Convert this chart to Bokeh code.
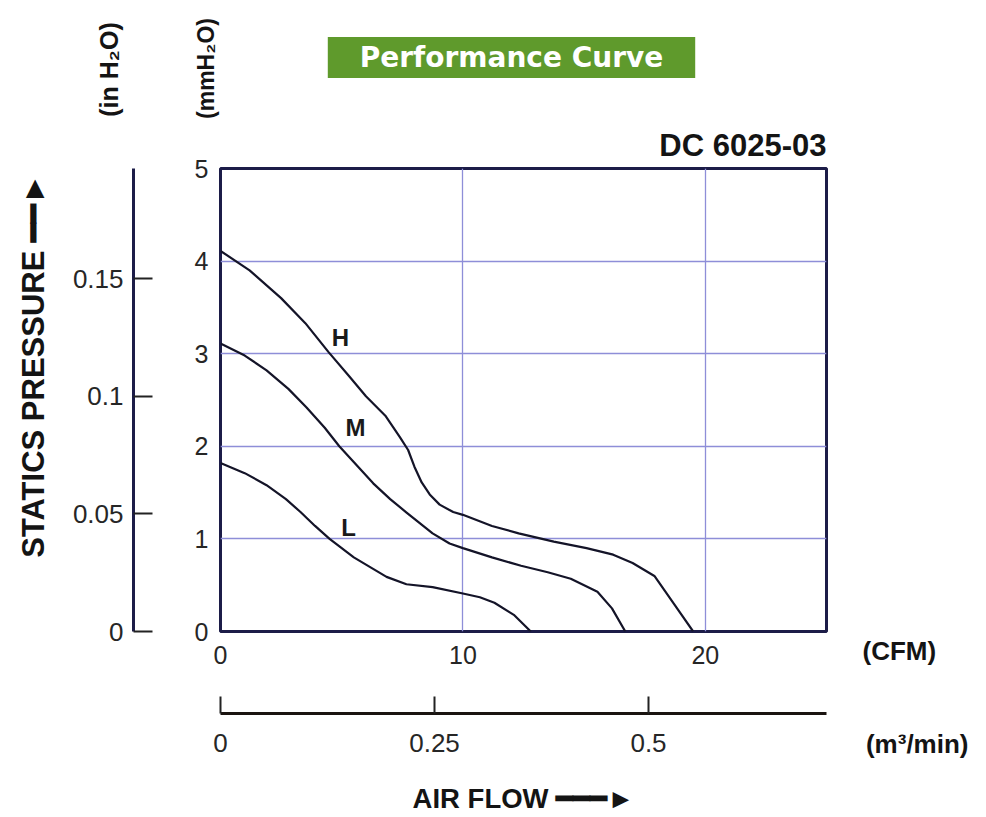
import math
from bokeh.plotting import figure
from bokeh.layouts import column, row
from bokeh.models import (Range1d, LinearAxis, FixedTicker, NumeralTickFormatter, Label, Title)
from bokeh.embed import file_html
from bokeh.resources import INLINE

# ---------------- data ----------------
H_cfm = [0, 1.2, 2.5, 3.5, 4.45, 5.3, 6.0, 6.8, 7.4, 7.74, 8.0, 8.3, 8.63, 9.04, 9.6, 10, 11.2, 12.3, 13.75, 15.1, 16.2, 17.0, 17.9, 18.7, 19.5]
H_mm = [4.11, 3.9, 3.6, 3.33, 3.02, 2.76, 2.54, 2.33, 2.1, 1.96, 1.78, 1.61, 1.48, 1.37, 1.29, 1.26, 1.14, 1.06, 0.97, 0.9, 0.83, 0.74, 0.6, 0.3, 0.0]

M_cfm = [0, 1.0, 1.9, 2.8, 3.55, 4.3, 4.9, 5.6, 6.3, 7.0, 7.65, 8.75, 9.45, 10, 11.2, 12.4, 13.5, 14.45, 15.55, 16.15, 16.7]
M_mm = [3.11, 2.98, 2.82, 2.62, 2.42, 2.2, 2.0, 1.8, 1.6, 1.43, 1.29, 1.06, 0.95, 0.9, 0.8, 0.71, 0.64, 0.57, 0.43, 0.25, 0.0]

L_cfm = [0, 1.0, 1.9, 2.7, 3.3, 3.9, 4.5, 5.5, 6.85, 7.67, 8.75, 10, 10.7, 11.3, 12.1, 12.8]
L_mm = [1.82, 1.71, 1.58, 1.43, 1.29, 1.14, 1.0, 0.8, 0.59, 0.51, 0.48, 0.41, 0.37, 0.31, 0.18, 0.0]

curve_names = ["H", "M", "L"]
curve_label_x = [4.95, 5.57, 5.28]
curve_label_y = [3.17, 2.2, 1.12]

cfm_ticks = [0, 10, 20]
mm_ticks = [0, 1, 2, 3, 4, 5]
inch_ticks = [0, 0.05, 0.1, 0.15]
m3_ticks = [0, 0.25, 0.5]

CFM_MAX = 25
MM_MAX = 5
MM_PER_INCH = 25.4
M3MIN_PER_CFM = 0.0283168

# ---------------- styles / layout sizes ----------------
NAVY = "#1c1c48"
TXT = "#262626"
DARK = "#141414"
GRID = "#8e8ed8"
FONT = "Liberation Sans"

TOTAL_W, TOTAL_H = 970, 817
FRAME_TOP, FRAME_H = 168, 463
MAIN_TOP_BORDER = 49
HEAD_H = FRAME_TOP - MAIN_TOP_BORDER
MAIN_W = 842
MAIN_H = TOTAL_H - HEAD_H
SIDE_W = TOTAL_W - MAIN_W


def blank(width, height, x0, x1, y0, y1):
    f = figure(width=width, height=height, output_backend="svg", toolbar_location=None,
               x_range=Range1d(x0, x1), y_range=Range1d(y1, y0), title=None,
               x_axis_location=None, y_axis_location=None, min_border=0)
    f.grid.visible = False
    f.outline_line_color = None
    f.background_fill_color = "white"
    f.border_fill_color = "white"
    return f


def tlabel(f, x, y, text, size, align="left", angle=0.0, font=FONT, color=DARK, **kw):
    f.add_layout(Label(x=x, y=y, text=text, text_align=align, text_baseline="middle",
                       angle=angle, text_font=font, text_font_style="bold",
                       text_font_size=size, text_color=color, **kw))


# ---------------- header strip (page pixels) ----------------
head = blank(TOTAL_W, HEAD_H, 0, TOTAL_W, 0, HEAD_H)
tlabel(head, 511, 57, "Performance Curve", "28px", align="center", font="DejaVu Sans",
       color="white", background_fill_color="#5f9a2c",
       padding=dict(top=4, right=32, bottom=4, left=32))
tlabel(head, 108, 69, "(in H₂O)", "25px", align="center", angle=math.pi / 2)
tlabel(head, 205, 68, "(mmH₂O)", "23px", align="center", angle=math.pi / 2)

# ---------------- main chart ----------------
p = figure(width=MAIN_W, height=MAIN_H, output_backend="svg", toolbar_location=None,
           x_range=Range1d(0, CFM_MAX), y_range=Range1d(0, MM_MAX), title=None,
           min_border_left=220, min_border_right=16,
           min_border_top=MAIN_TOP_BORDER,
           min_border_bottom=MAIN_H - MAIN_TOP_BORDER - FRAME_H)
p.background_fill_color = "white"
p.border_fill_color = "white"
p.outline_line_color = NAVY
p.outline_line_width = 3
p.add_layout(Title(text="DC 6025-03", align="right", text_font=FONT,
                   text_font_style="bold", text_font_size="31px", text_color=DARK,
                   standoff=11), "above")

p.extra_y_ranges = {"inch": Range1d(0, MM_MAX / MM_PER_INCH)}
p.extra_x_ranges = {"m3": Range1d(0, CFM_MAX * M3MIN_PER_CFM)}

xa = p.xaxis[0]
xa.ticker = FixedTicker(ticks=cfm_ticks)
ya = p.yaxis[0]
ya.ticker = FixedTicker(ticks=mm_ticks)
for ax in (xa, ya):
    ax.axis_line_color = None
    ax.major_tick_line_color = None
    ax.minor_tick_line_color = None
    ax.major_tick_out = 0
    ax.major_tick_in = 0
    ax.major_label_text_font = FONT
    ax.major_label_text_font_size = "25px"
    ax.major_label_text_color = TXT
    ax.axis_label = " "
    ax.axis_label_text_font_size = "10px"
ya.major_label_standoff = 12
ya.axis_label_standoff = 44
xa.major_label_standoff = 14
xa.axis_label_standoff = 33

ia = LinearAxis(y_range_name="inch", ticker=FixedTicker(ticks=inch_ticks),
                formatter=NumeralTickFormatter(format="0.[00]"))
ma = LinearAxis(x_range_name="m3", ticker=FixedTicker(ticks=m3_ticks),
                formatter=NumeralTickFormatter(format="0.[00]"))
for ax in (ia, ma):
    ax.axis_line_color = NAVY
    ax.axis_line_width = 3
    ax.major_tick_line_color = "#222222"
    ax.major_tick_line_width = 2
    ax.major_tick_out = 0
    ax.minor_tick_line_color = None
    ax.major_label_text_font = FONT
    ax.major_label_text_font_size = "26px"
    ax.major_label_text_color = TXT
    ax.axis_label_text_font = FONT
    ax.axis_label_text_font_style = "bold"
    ax.axis_label_text_color = DARK
ia.major_tick_in = 19
ia.major_label_standoff = 10
ia.axis_label = "\u00a0" * 8 + "STATICS PRESSURE \u2501\u2501\u25ba"
ia.axis_label_text_font_size = "31px"
ia.axis_label_standoff = 19
ma.major_tick_in = 17
ma.major_label_standoff = 20
ma.axis_line_color = "#1a1410"
ma.axis_label = "AIR FLOW \u2501\u2501\u2501\u25ba"
ma.axis_label_text_font_size = "27.5px"
ma.axis_label_standoff = 28
p.add_layout(ia, "left")
p.add_layout(ma, "below")

p.xgrid.ticker = FixedTicker(ticks=cfm_ticks)
p.ygrid.ticker = FixedTicker(ticks=mm_ticks)
for g in (p.xgrid[0], p.ygrid[0]):
    g.grid_line_color = GRID
    g.grid_line_width = 1.3

for xs, ys in ((H_cfm, H_mm), (M_cfm, M_mm), (L_cfm, L_mm)):
    p.line(xs, ys, line_color="#141428", line_width=2.2, line_join="round")

for name, lx, ly in zip(curve_names, curve_label_x, curve_label_y):
    tlabel(p, lx, ly, name, "24px", align="center", color="#1a1a1a")

# ---------------- right strip: unit names beside the two flow axes ----------------
side = blank(SIDE_W, MAIN_H, 0, 1, 0, 1)
side.add_layout(Title(text="(CFM)", align="left", offset=20, vertical_align="top",
                      standoff=9, text_font=FONT, text_font_style="bold",
                      text_font_size="26px", text_color=DARK), "below")
side.add_layout(Title(text="(m³/min)", align="right", offset=2, vertical_align="top",
                      standoff=112, text_font=FONT, text_font_style="bold",
                      text_font_size="26px", text_color=DARK), "below")

layout = column(head, row(p, side, spacing=0), spacing=0)
open("out.html", "w").write(file_html(layout, INLINE))
